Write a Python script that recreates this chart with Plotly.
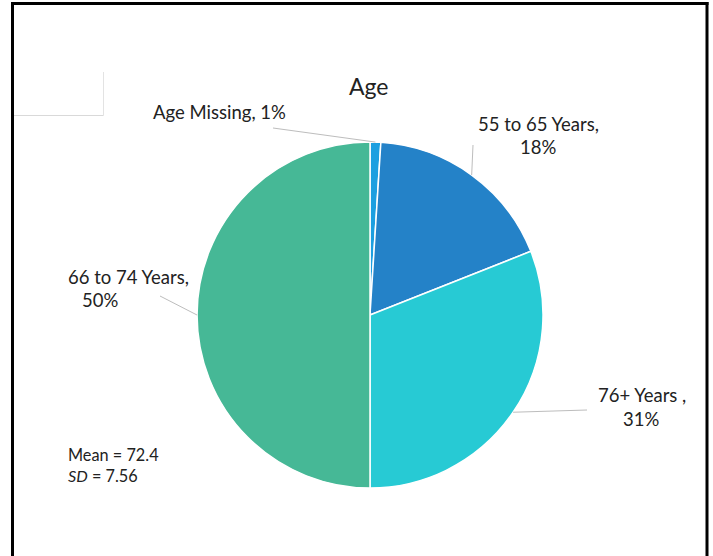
import math
import plotly.graph_objects as go

# Age distribution of respondents
categories = ["Age Missing", "55 to 65 Years", "76+ Years ", "66 to 74 Years"]
percentages = [1, 18, 31, 50]
colors = ["#1c9fe0", "#2482c8", "#27cad4", "#46b896"]
mean_age = 72.4
sd_age = 7.56

W, H = 713, 556
CX, CY, R = 370, 315, 173  # pie centre and radius in pixels


def px(x):
    return x / W


def py(y):
    return 1 - y / H


fig = go.Figure(
    go.Pie(
        labels=categories,
        values=percentages,
        sort=False,
        direction="clockwise",
        rotation=0,
        textinfo="none",
        hoverinfo="label+percent",
        marker=dict(colors=colors, line=dict(color="white", width=1.5)),
        domain=dict(x=[px(CX - R), px(CX + R)], y=[py(CY + R), py(CY - R)]),
        showlegend=False,
    )
)

# Label layout in pixels: centre of the name line, centre of the percent line
# (None when both sit on one line), and the outer end of the leader line
name_pos = [(219, 112), (538, 124), (642, 395), (128, 277)]
pct_pos = [None, (538, 147), (641, 419), (100, 300)]
leader_out = [(273, 128), (473, 145), (587, 410), (160, 296)]

label_font = dict(size=18.5, color="#222222", family="Lato")

shapes = []
annotations = []
total = sum(percentages)
cum = 0.0
for name, val, (nx, ny), pp, (lx, ly) in zip(categories, percentages, name_pos, pct_pos, leader_out):
    mid = (cum + val / 2) / total * 2 * math.pi
    cum += val
    ex = CX + R * math.sin(mid)
    ey = CY - R * math.cos(mid)
    shapes.append(dict(type="line", xref="paper", yref="paper",
                       x0=px(lx), y0=py(ly), x1=px(ex), y1=py(ey),
                       line=dict(color="#bdbdbd", width=1)))
    if pp is None:
        annotations.append(dict(x=px(nx), y=py(ny), xref="paper", yref="paper",
                                text=f"{name}, {val}%", showarrow=False,
                                xanchor="center", yanchor="middle", font=label_font))
    else:
        annotations.append(dict(x=px(nx), y=py(ny), xref="paper", yref="paper",
                                text=f"{name},", showarrow=False,
                                xanchor="center", yanchor="middle", font=label_font))
        annotations.append(dict(x=px(pp[0]), y=py(pp[1]), xref="paper", yref="paper",
                                text=f"{val}%", showarrow=False,
                                xanchor="center", yanchor="middle", font=label_font))

annotations.append(dict(x=px(369), y=py(86), xref="paper", yref="paper", text="Age",
                        showarrow=False, xanchor="center", yanchor="middle",
                        font=dict(size=23, color="#222222", family="Lato")))
annotations.append(dict(x=px(66), y=py(465), xref="paper", yref="paper",
                        text=f"Mean = {mean_age}<br><i>SD</i> = {sd_age}",
                        showarrow=False, xanchor="left", yanchor="middle", align="left",
                        font=dict(size=16.3, color="#222222", family="Lato")))

# Outer frame (left, top, right edges) and the faint box in the top-left corner
frame = dict(color="black", width=3)
shapes += [
    dict(type="line", xref="paper", yref="paper", x0=px(12.5), y0=py(3.5), x1=px(12.5), y1=py(H + 5), line=frame),
    dict(type="line", xref="paper", yref="paper", x0=px(11), y0=py(3.5), x1=px(708.5), y1=py(3.5), line=frame),
    dict(type="line", xref="paper", yref="paper", x0=px(707), y0=py(2), x1=px(707), y1=py(H + 5), line=frame),
    dict(type="line", xref="paper", yref="paper", x0=px(14), y0=py(115.5), x1=px(103.5), y1=py(115.5),
         line=dict(color="#d9d9d9", width=1)),
    dict(type="line", xref="paper", yref="paper", x0=px(103.5), y0=py(72), x1=px(103.5), y1=py(115.5),
         line=dict(color="#e3e3e3", width=1)),
]

fig.update_layout(
    width=W, height=H,
    margin=dict(l=0, r=0, t=0, b=0),
    paper_bgcolor="white", plot_bgcolor="white",
    shapes=shapes, annotations=annotations,
)

fig.write_html("out.html")
